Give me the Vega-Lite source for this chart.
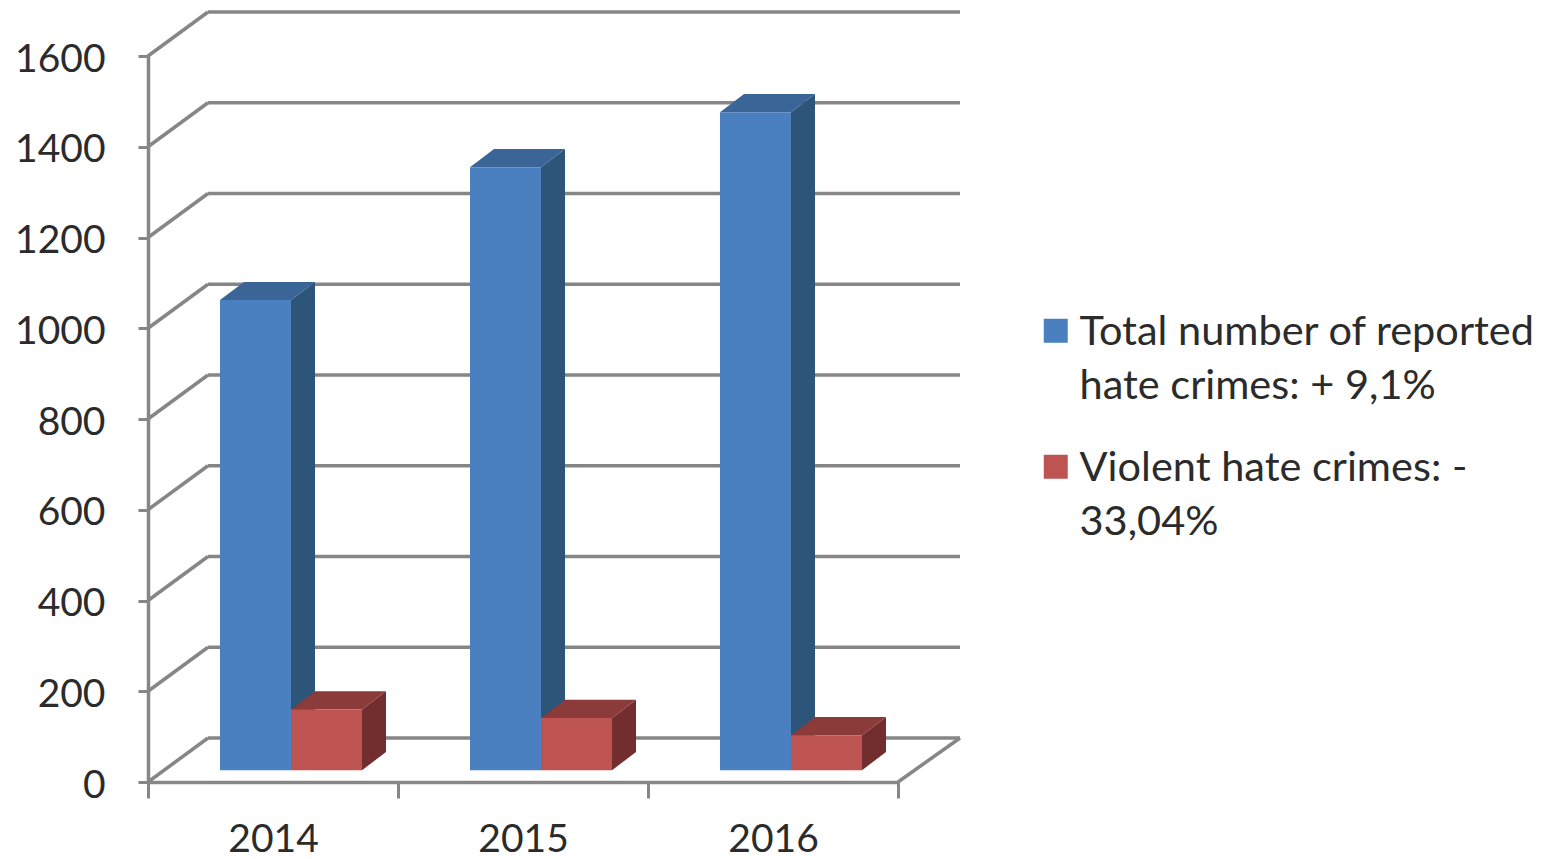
{
"$schema":"https://vega.github.io/schema/vega-lite/v6.json",
"width":750,"height":726,
"autosize":"none",
"padding":{"left":148,"top":56,"right":656,"bottom":77},
"background":"white",
"config":{"view":{"stroke":null},"font":"Lato"},
"datasets":{
"bars":[
{"year":2014,"series":"Total number of reported hate crimes: + 9,1%","value":1036},
{"year":2015,"series":"Total number of reported hate crimes: + 9,1%","value":1329},
{"year":2016,"series":"Total number of reported hate crimes: + 9,1%","value":1450},
{"year":2014,"series":"Violent hate crimes: - 33,04%","value":134},
{"year":2015,"series":"Violent hate crimes: - 33,04%","value":115},
{"year":2016,"series":"Violent hate crimes: - 33,04%","value":77}
],
"levels":[{"level":0},{"level":200},{"level":400},{"level":600},{"level":800},{"level":1000},{"level":1200},{"level":1400},{"level":1600}],
"corner":[{"x":3,"level":0}]
},
"resolve":{"scale":{"color":"independent"}},
"layer":[
{"data":{"name":"levels"},
"transform":[{"calculate":"0.24","as":"bx"},{"calculate":"3.248","as":"ex"},{"calculate":"datum.level+97","as":"by"}],
"mark":{"type":"rule","color":"#868686","strokeWidth":3.5,"clip":false},
"encoding":{
"x":{"field":"bx","type":"quantitative","scale":{"domain":[0,3]},"title":null,
"axis":{"values":[0,0.5,1,1.5,2,2.5,3],"labelExpr":"datum.value % 1 ? format(2014+floor(datum.value),'d') : ''","labelOverlap":false,"labelBound":false,"labelFlush":false,"grid":false,"domainColor":"#868686","domainWidth":3.5,"tickColor":"#868686","tickWidth":3,"tickSize":16,"tickOpacity":{"condition":{"test":"datum.value % 1 != 0","value":0},"value":1},"labelFontSize":39,"labelColor":"#2b2b2b","labelPadding":22,"labelFont":"Lato","labelAngle":0}},
"x2":{"field":"ex"},
"y":{"field":"by","type":"quantitative","scale":{"domain":[0,1600]},"title":null,
"axis":{"values":[0,200,400,600,800,1000,1200,1400,1600],"format":"d","grid":false,"domainColor":"#868686","domainWidth":3.5,"tickColor":"#868686","tickWidth":3,"tickSize":10,"labelFontSize":39,"labelColor":"#2b2b2b","labelPadding":33,"labelOffset":3,"labelFont":"Lato"}}
}},
{"data":{"name":"levels"},
"transform":[{"calculate":"0","as":"ax"},{"calculate":"0.24","as":"bx"},{"calculate":"datum.level+97","as":"by"}],
"mark":{"type":"rule","color":"#868686","strokeWidth":3.5,"clip":false},
"encoding":{
"x":{"field":"ax","type":"quantitative","title":null},"x2":{"field":"bx"},
"y":{"field":"level","type":"quantitative","title":null},"y2":{"field":"by"}
}},
{"data":{"name":"corner"},
"transform":[{"calculate":"3.248","as":"bx"},{"calculate":"97","as":"by"}],
"mark":{"type":"rule","color":"#868686","strokeWidth":3.5,"clip":false},
"encoding":{
"x":{"field":"x","type":"quantitative","title":null},"x2":{"field":"bx"},
"y":{"field":"level","type":"quantitative","title":null},"y2":{"field":"by"}
}},
{"data":{"name":"bars"},
"transform":[
{"calculate":"[0,1]","as":"k"},{"flatten":["k"]},
{"calculate":"datum.year-2014+(indexof(datum.series,'Total')==0?0.288:0.572)+datum.k*0.096","as":"px"},
{"calculate":"datum.year-2014+(indexof(datum.series,'Total')==0?0.288:0.572)+0.284+datum.k*0.096","as":"pxr"},
{"calculate":"datum.value+26+datum.k*40","as":"py"},
{"calculate":"26+datum.k*40","as":"py0"},
{"calculate":"datum.series+datum.year","as":"id"}
],
"resolve":{"scale":{"color":"independent"}},
"layer":[
{"mark":{"type":"area","orient":"vertical","clip":false,"line":false},
"transform":[{"calculate":"datum.pxr","as":"sx"}],
"encoding":{
"x":{"field":"sx","type":"quantitative","title":null},
"y":{"field":"py","type":"quantitative","title":null,"stack":null},
"y2":{"field":"py0"},
"detail":{"field":"id"},
"color":{"field":"series","type":"nominal","legend":null,"scale":{"domain":["Total number of reported hate crimes: + 9,1%","Violent hate crimes: - 33,04%"],"range":["#2c5579","#722e2f"]}}
}},
{"mark":{"type":"area","orient":"horizontal","clip":false},
"encoding":{
"y":{"field":"py","type":"quantitative","title":null},
"x":{"field":"px","type":"quantitative","title":null,"stack":null},
"x2":{"field":"pxr"},
"detail":{"field":"id"},
"color":{"field":"series","type":"nominal","legend":null,"scale":{"domain":["Total number of reported hate crimes: + 9,1%","Violent hate crimes: - 33,04%"],"range":["#3a6596","#8a3b3a"]}}
}}
]},
{"data":{"name":"bars"},
"transform":[
{"calculate":"datum.year-2014+(indexof(datum.series,'Total')==0?0.288:0.572)","as":"px"},
{"calculate":"datum.px+0.284","as":"pxr"},
{"calculate":"datum.value+26","as":"py"},
{"calculate":"26","as":"py0"}
],
"mark":{"type":"rect","clip":false},
"encoding":{
"x":{"field":"px","type":"quantitative","title":null},"x2":{"field":"pxr"},
"y":{"field":"py","type":"quantitative","title":null},"y2":{"field":"py0"},
"color":{"field":"series","type":"nominal","title":null,
"scale":{"domain":["Total number of reported hate crimes: + 9,1%","Violent hate crimes: - 33,04%"],"range":["#4a80bf","#bd5452"]},
"legend":{"orient":"none","legendX":887,"legendY":254,"symbolType":"square","symbolSize":576,"symbolStrokeWidth":0,"labelFont":"Lato","labelFontSize":41.5,"labelColor":"#2b2b2b","labelLimit":600,"labelOffset":3,"rowPadding":38,
"labelExpr":"indexof(datum.label,'Total')==0 ? ['Total number of reported','hate crimes: + 9,1%'] : ['Violent hate crimes: -','33,04%']",
"labelBaseline":"alphabetic",
"encode":{"labels":{"update":{"dy":{"value":14},"lineHeight":{"value":54}}}}}}
}}
]
}
